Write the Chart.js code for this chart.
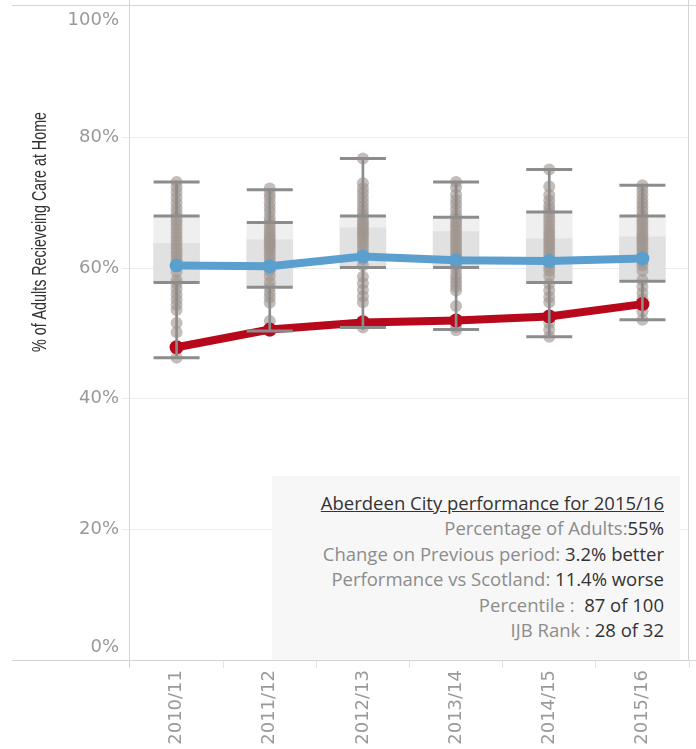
<!DOCTYPE html>
<html>
<head>
<meta charset="utf-8">
<script src="https://cdn.jsdelivr.net/npm/chart.js@4.4.1/dist/chart.umd.min.js"></script>
<style>
  html, body { margin: 0; padding: 0; background: #fff; }
  #wrap { position: relative; width: 696px; height: 749px; overflow: hidden; }
  #myChart { position: absolute; left: 0; top: 0; }
  #info {
    position: absolute; left: 272px; top: 476px; width: 408px; height: 184px;
    box-sizing: border-box; padding: 14px 16px 0 0;
    background: #f7f7f7; text-align: right;
    font-family: "Open Sans", sans-serif; font-size: 18.5px; line-height: 25.4px;
    color: #8c8c8c; white-space: nowrap;
  }
  #info .t { color: #333; text-decoration: underline; }
  #info .v { color: #333; }
</style>
</head>
<body>
<div id="wrap">
  <canvas id="myChart" width="696" height="749"></canvas>
  <div id="info">
    <div class="t">Aberdeen City performance for 2015/16</div>
    <div>Percentage of Adults:<span class="v">55%</span></div>
    <div>Change on Previous period: <span class="v">3.2% better</span></div>
    <div>Performance vs Scotland: <span class="v">11.4% worse</span></div>
    <div>Percentile : &nbsp;<span class="v">87 of 100</span></div>
    <div>IJB Rank : <span class="v">28 of 32</span></div>
  </div>
</div>
<script>
const years = ["2010/11", "2011/12", "2012/13", "2013/14", "2014/15", "2015/16"];
const yTicks = [0, 20, 40, 60, 80, 100];
const yTitle = "% of Adults Recieveing Care at Home";

// Scotland average and Aberdeen City
const scotland = [60.4, 60.3, 61.8, 61.2, 61.1, 61.5];
const aberdeen = [47.9, 50.6, 51.7, 52.0, 52.6, 54.5];

// box plot stats across the 32 partnerships
const boxMax = [73.2, 72.0, 76.8, 73.2, 75.1, 72.7];
const boxQ3 = [68.0, 67.0, 68.0, 67.8, 68.6, 68.0];
const boxMedian = [63.8, 64.4, 66.2, 65.6, 64.5, 64.8];
const boxQ1 = [57.8, 57.1, 60.1, 60.1, 57.8, 58.0];
const boxMin = [46.3, 50.4, 50.9, 50.6, 49.5, 52.1];

// individual partnership values per year
const ijb2010 = [73.2, 72.4, 71.6, 70.8, 70.0, 69.2, 68.5, 67.8, 67.2, 66.6, 66.0, 65.4, 64.8, 64.2, 63.6, 63.0,
  62.4, 61.8, 61.2, 60.6, 59.4, 58.2, 57.6, 56.8, 56.0, 55.2, 54.4, 53.6, 51.6, 50.2, 47.9, 46.3];
const ijb2011 = [72.2, 71.4, 70.8, 70.0, 69.3, 68.6, 67.8, 67.2, 66.6, 66.0, 65.5, 65.0, 64.6, 64.2, 63.8, 63.4,
  63.0, 62.5, 62.0, 61.4, 60.8, 60.3, 59.6, 58.8, 57.8, 57.0, 56.2, 55.5, 54.7, 51.9, 50.7, 50.4];
const ijb2012 = [76.8, 73.0, 72.2, 71.5, 70.8, 70.1, 69.4, 68.8, 68.2, 67.8, 67.2, 66.8, 66.4, 66.0, 65.6, 65.2,
  64.8, 64.3, 63.8, 63.2, 62.6, 62.0, 61.4, 60.4, 58.7, 57.7, 56.7, 55.7, 54.8, 52.0, 51.6, 50.9];
const ijb2013 = [73.2, 72.4, 71.3, 70.5, 69.8, 69.0, 68.2, 67.6, 67.1, 66.6, 66.1, 65.6, 65.1, 64.6, 64.1, 63.6,
  63.1, 62.6, 62.1, 61.6, 61.0, 60.4, 59.8, 59.0, 58.4, 57.8, 57.2, 56.6, 54.2, 52.0, 51.0, 50.5];
const ijb2014 = [75.1, 72.5, 71.2, 70.4, 69.6, 69.0, 68.4, 67.8, 67.2, 66.6, 66.0, 65.5, 65.0, 64.5, 64.0, 63.5,
  63.0, 62.5, 62.0, 61.4, 60.8, 60.2, 59.6, 58.8, 57.6, 56.6, 55.6, 54.8, 52.6, 51.6, 50.6, 49.5];
const ijb2015 = [72.7, 72.0, 71.3, 70.6, 70.0, 69.4, 68.8, 68.2, 67.7, 67.2, 66.7, 66.2, 65.7, 65.2, 64.8, 64.4,
  64.0, 63.5, 63.0, 62.5, 62.0, 61.5, 61.0, 60.4, 59.6, 58.2, 57.2, 56.2, 55.3, 54.5, 53.4, 52.1];
const ijbValues = [ijb2010, ijb2011, ijb2012, ijb2013, ijb2014, ijb2015];

const boxGrey = "#8c8c8c";

let dots = [];
ijbValues.forEach((list, i) => {
  list.forEach((v) => dots.push({ x: years[i], y: v }));
});

let caps = [];
years.forEach((yr, i) => {
  [boxMax[i], boxQ3[i], boxQ1[i], boxMin[i]].forEach((v) => caps.push({ x: yr, y: v }));
});

const framePlugin = {
  id: "frame",
  beforeDatasetsDraw(chart) {
    const { ctx, chartArea: a, width } = chart;
    ctx.save();
    ctx.strokeStyle = "#d4d4d4";
    ctx.lineWidth = 1;
    ctx.beginPath();
    ctx.moveTo(12, a.top - 1.5);
    ctx.lineTo(width, a.top - 1.5);
    ctx.moveTo(12, a.bottom + 0.5);
    ctx.lineTo(width, a.bottom + 0.5);
    ctx.moveTo(a.left - 0.5, 0);
    ctx.lineTo(a.left - 0.5, a.bottom + 8);
    ctx.moveTo(a.right - 0.5, 0);
    ctx.lineTo(a.right - 0.5, a.bottom);
    ctx.stroke();
    ctx.restore();
  },
  afterDraw(chart) {
    const { ctx, chartArea: a } = chart;
    const y = chart.scales.y;
    ctx.save();
    ctx.font = '18px "DejaVu Sans"';
    ctx.fillStyle = "#999";
    ctx.textAlign = "right";
    ctx.textBaseline = "middle";
    yTicks.forEach((v) => {
      let py = y.getPixelForValue(v);
      if (v === 100) py = a.top + 13;
      if (v === 0) py = a.bottom - 13;
      ctx.fillText(v + "%", a.left - 11, py);
    });
    ctx.restore();

    // axis title, narrow like the original
    ctx.save();
    ctx.font = '20px "Liberation Sans"';
    ctx.fillStyle = "#333";
    ctx.textAlign = "center";
    ctx.textBaseline = "middle";
    const w = ctx.measureText(yTitle).width;
    ctx.translate(40, 232);
    ctx.rotate(-Math.PI / 2);
    ctx.scale(240 / w, 1);
    ctx.fillText(yTitle, 0, 0);
    ctx.restore();
  },
};

const data = {
  labels: years,
  datasets: [
    {
      type: "bar",
      data: years.map((_, i) => [boxMedian[i], boxQ3[i]]),
      backgroundColor: "#efefef",
      barThickness: 46,
      grouped: false,
      order: 10,
    },
    {
      type: "bar",
      data: years.map((_, i) => [boxQ1[i], boxMedian[i]]),
      backgroundColor: "#e1e1e1",
      barThickness: 46,
      grouped: false,
      order: 9,
    },
    {
      type: "line",
      data: dots,
      showLine: false,
      pointRadius: 6,
      pointBorderWidth: 0,
      pointBackgroundColor: "rgba(160,148,142,0.62)",
      order: 8,
    },
    {
      type: "line",
      label: "Scotland",
      data: scotland,
      borderColor: "#5b9fcf",
      borderWidth: 8,
      pointRadius: 7,
      pointBorderWidth: 0,
      pointBackgroundColor: "#5b9fcf",
      tension: 0,
      order: 7,
    },
    {
      type: "line",
      label: "Aberdeen City",
      data: aberdeen,
      borderColor: "#b8081c",
      borderWidth: 8,
      pointRadius: 7,
      pointBorderWidth: 0,
      pointBackgroundColor: "#b8081c",
      tension: 0,
      order: 6,
    },
    {
      type: "bar",
      data: years.map((_, i) => [boxQ3[i], boxMax[i]]),
      backgroundColor: boxGrey,
      barThickness: 2,
      grouped: false,
      order: 5,
    },
    {
      type: "bar",
      data: years.map((_, i) => [boxMin[i], boxQ1[i]]),
      backgroundColor: boxGrey,
      barThickness: 2,
      grouped: false,
      order: 5,
    },
    {
      type: "line",
      data: caps,
      showLine: false,
      pointStyle: "line",
      pointRadius: 23,
      pointBorderWidth: 3,
      pointBorderColor: boxGrey,
      order: 4,
    },
  ],
};

const config = {
  type: "bar",
  data: data,
  plugins: [framePlugin],
  options: {
    responsive: false,
    animation: false,
    events: [],
    layout: { autoPadding: false, padding: { left: 122, right: 7, top: 7, bottom: 0 } },
    plugins: { legend: { display: false }, tooltip: { enabled: false } },
    scales: {
      x: {
        type: "category",
        offset: true,
        border: { display: false },
        grid: { drawOnChartArea: false, tickLength: 8, color: "#e4e4e4" },
        ticks: {
          minRotation: 90,
          maxRotation: 90,
          autoSkip: false,
          padding: 2,
          color: "#999",
          font: { family: "DejaVu Sans", size: 18 },
        },
        afterFit: (s) => { s.height = 89; },
      },
      y: {
        min: 0,
        max: 100,
        border: { display: false },
        grid: {
          tickLength: 8,
          color: (c) => (c.tick && (c.tick.value === 0 || c.tick.value === 100) ? "rgba(0,0,0,0)" : "#ececec"),
        },
        ticks: { stepSize: 20, display: false },
        afterFit: (s) => { s.width = 8; },
      },
    },
  },
};

new Chart(document.getElementById("myChart"), config);
</script>
</body>
</html>
